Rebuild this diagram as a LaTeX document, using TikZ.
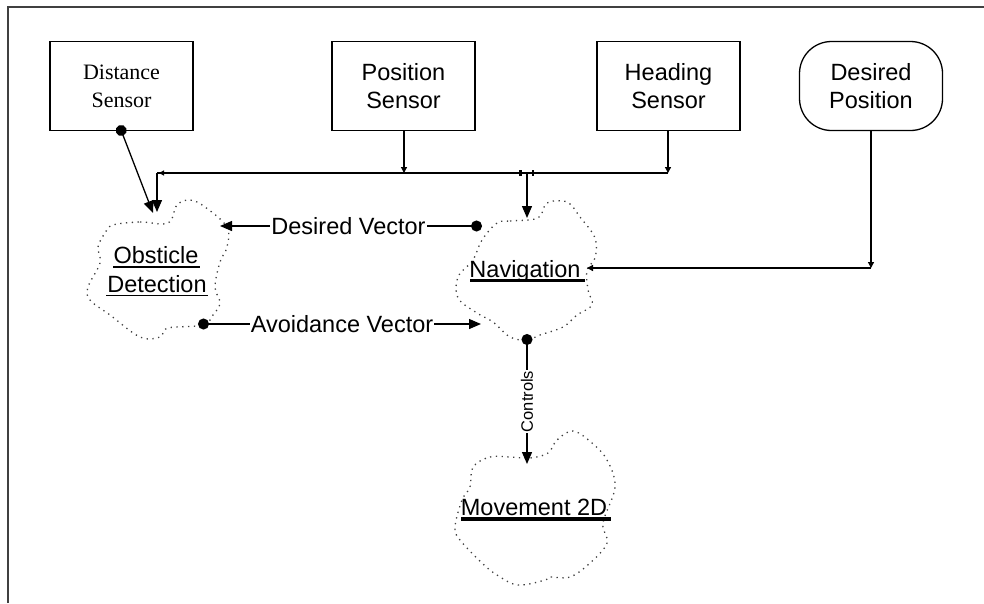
\documentclass[tikz,border=0pt]{standalone}
\usepackage{fontspec}
\setmainfont{Liberation Sans}
\newfontfamily\seriffont{Liberation Serif}
\usetikzlibrary{arrows.meta,calc}
\begin{document}
\begin{tikzpicture}[x=1pt,y=-1pt,
  box/.style={draw,line width=1.3pt,minimum width=143pt,minimum height=89pt,inner sep=0pt,align=center,font=\fontsize{23.5}{28}\selectfont},
  lbl/.style={font=\fontsize{23.5}{28}\selectfont,inner sep=0pt,anchor=base},
  conn/.style={line width=1.3pt},
  big/.style={-{Triangle[length=12pt,width=10pt]}},
  small/.style={-{Triangle[length=6pt,width=6pt]}},
  dotbig/.style={{Circle[length=11pt,width=11pt]}-{Triangle[length=12pt,width=10pt]}},
  cloud/.style={line width=1.3pt,black!75,dash pattern=on 1.3pt off 4.5pt},
  edgelbl/.style={fill=white,inner sep=1pt,font=\fontsize{23.5}{28}\selectfont}
]
\useasboundingbox (0,0) rectangle (984,603);
\draw[line width=2pt,black!75] (8,603) -- (8,7) -- (984,7);

% boxes
\node[box,font=\seriffont\fontsize{22}{28}\selectfont] (dist) at (121.5,86) {Distance\\Sensor};
\node[box] (pos) at (403.5,86) {Position\\Sensor};
\node[box] (head) at (668.5,86) {Heading\\Sensor};
\node[box,rounded corners=32pt] (dpos) at (871,86) {Desired\\Position};

% clouds
\draw[cloud] plot[smooth cycle,tension=0.6] coordinates {(113,225) (140,222) (168,223) (177,205) (190,200) (205,207) (227,227) (227,247) (220,262) (215,287) (220,303) (213,315) (203,325) (168,328) (160,337) (140,337) (110,315) (90,300) (88,287) (100,263) (98,247) (105,233)};
\draw[cloud] plot[smooth cycle,tension=0.6] coordinates {(497,223) (510,221) (538,218) (547,203) (567,202) (580,217) (595,238) (595,258) (587,270) (588,290) (592,305) (577,315) (563,327) (540,335) (527,340) (510,337) (493,322) (477,313) (458,298) (458,277) (473,260) (482,240)};
\draw[cloud] plot[smooth cycle,tension=0.6] coordinates {(473,467) (490,457) (510,457) (530,458) (548,453) (557,440) (573,431) (592,443) (607,460) (615,487) (603,523) (607,543) (590,563) (570,577) (550,577) (545,580) (518,585) (497,575) (482,563) (460,540) (455,527) (462,500) (470,487)};

% cloud texts
\node[lbl] (obs) at (156,263) {Obsticle};
\node[lbl] (det) at (157,292) {Detection};
\node[lbl] (nav) at (525,277) {Navigation};
\node[lbl] (mov) at (534,515) {Movement 2D};
\draw[line width=1.5pt] (113,267) -- (200,267);
\draw[line width=1.5pt] (106,295.5) -- (208,295.5);
\draw[line width=3.5pt] (470,280.5) -- (585,280.5);
\draw[line width=4pt] (461,518.5) -- (611,518.5);

% connection points
\coordinate (distout) at (121,130);
\coordinate (obsin) at (153,213);
\coordinate (busL) at (157,173);
\coordinate (busLa) at (157,212);
\coordinate (posbus) at (404,173);
\coordinate (headbus) at (668,173);
\coordinate (junc) at (527,173);
\coordinate (navtop) at (527,218);
\coordinate (dvfrom) at (477,226);
\coordinate (dvto) at (220,226);
\coordinate (avfrom) at (203,324);
\coordinate (avto) at (481,324);
\coordinate (dcorner) at (871,268);
\coordinate (navright) at (587,268);
\coordinate (navbot) at (527,339);
\coordinate (movtop) at (527,464);

% connectors
\draw[conn,dotbig,shorten <=-5pt] (distout) -- (obsin);
\draw[conn,small] (pos.south -| posbus) -- (posbus);
\draw[conn,small] (head.south -| headbus) -- (headbus);
\draw[conn] (headbus) -- (busL);
\draw[conn,-{Triangle[length=5pt,width=5pt]}] ($(busL)+(8,0)$) -- ($(busL)+(2,0)$);
\draw[conn,big] (busL) -- (busLa);
\draw[line width=2.5pt,{Bar[width=6pt]}-{Bar[width=6pt]}] ($(junc)+(-8,0)$) -- ($(junc)+(7,0)$);
\draw[conn,big] (junc) -- (navtop);
\draw[conn,dotbig,shorten <=-5pt] (dvfrom) -- node[edgelbl]{Desired Vector} (dvto);
\draw[conn,dotbig,shorten <=-5pt] (avfrom) -- node[edgelbl]{Avoidance Vector} (avto);
\draw[conn,small] (dpos.south -| dcorner) -- (dcorner);
\draw[conn,small] (dcorner) -- (navright);
\draw[conn,dotbig,shorten <=-5pt] (navbot) -- node[fill=white,inner sep=1pt,rotate=90,font=\fontsize{16.5}{18}\selectfont]{Controls} (movtop);
\end{tikzpicture}
\end{document}
